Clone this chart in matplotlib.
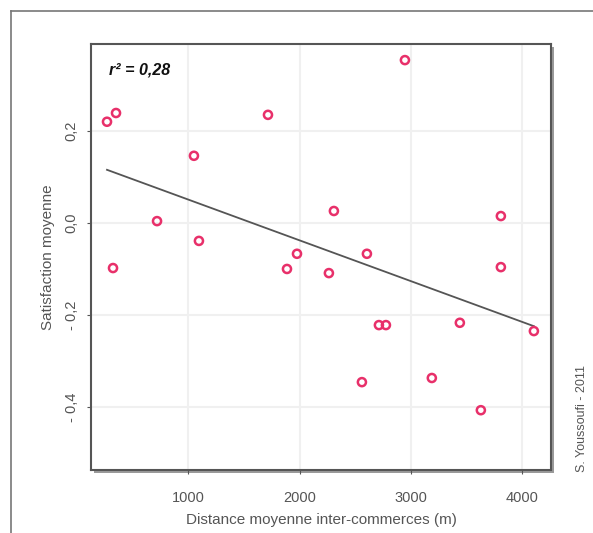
import numpy as np
import matplotlib
matplotlib.use("Agg")
import matplotlib.pyplot as plt
from matplotlib.patches import Rectangle
from matplotlib.lines import Line2D

# distance moyenne inter-commerces (m) / satisfaction moyenne
distance = [267, 348, 321, 717, 1049, 1094, 1715, 1886, 1976, 2263, 2308,
            2605, 2560, 2713, 2776, 2947, 3189, 3441, 3630, 3810, 3810, 4107]
satisfaction = [0.220, 0.239, -0.098, 0.004, 0.146, -0.039, 0.235, -0.100,
                -0.067, -0.109, 0.026, -0.067, -0.346, -0.222, -0.222, 0.354,
                -0.337, -0.217, -0.407, 0.015, -0.096, -0.235]
x_ticks = [1000, 2000, 3000, 4000]
y_ticks = [0.2, 0.0, -0.2, -0.4]
y_ticklabels = ["0,2", "0,0", "- 0,2", "- 0,4"]

plt.rcParams['font.family'] = ['Liberation Sans', 'DejaVu Sans']

fig = plt.figure(figsize=(5.93, 5.33), dpi=100)

# L-shaped outer frame
fig.add_artist(Line2D([11/593, 1], [1-11/533, 1-11/533], color="#777777", lw=1.2))
fig.add_artist(Line2D([11/593, 11/593], [0, 1-11/533], color="#777777", lw=1.2))

ax_pos = [91/593, 1-470/533, 460/593, 426/533]
# drop shadow behind the plot box
shadow = Rectangle((ax_pos[0] + 3/593, ax_pos[1] - 3/533), ax_pos[2], ax_pos[3],
                   transform=fig.transFigure, facecolor="#9a9a9a", edgecolor="none", zorder=0)
fig.add_artist(shadow)

ax = fig.add_axes(ax_pos)
ax.set_zorder(1)
ax.set_facecolor("white")
ax.set_xlim(123, 4261)
ax.set_ylim(-0.537, 0.389)

for xt in x_ticks:
    ax.axvline(xt, color="#f0f0f0", lw=1.5, zorder=0)
for yt in y_ticks:
    ax.axhline(yt, color="#f0f0f0", lw=1.5, zorder=0)

ax.scatter(distance, satisfaction, s=34, facecolors="none",
           edgecolors="#e8306a", linewidths=1.8, zorder=3)

coef = np.polyfit(distance, satisfaction, 1)
xs = np.array([min(distance), max(distance)])
ax.plot(xs, np.polyval(coef, xs), color="#555555", lw=1.3, zorder=2)

ax.text(0.04, 0.94, "r² = 0,28", transform=ax.transAxes, fontsize=11.5,
        fontweight="bold", style="italic", color="#111111", va="center")

ax.set_xticks(x_ticks)
ax.set_yticks(y_ticks)
ax.set_yticklabels(y_ticklabels, rotation=90, va="center")
ax.tick_params(colors="#555555", labelsize=10.5, length=3, width=0.8, direction="out")
ax.tick_params(axis="x", pad=12)
ax.tick_params(axis="y", pad=6)
for sp in ax.spines.values():
    sp.set_color("#555555")
    sp.set_linewidth(1.5)

ax.set_xlabel("Distance moyenne inter-commerces (m)", fontsize=11, color="#555555", labelpad=6)
ax.set_ylabel("Satisfaction moyenne", fontsize=11, color="#555555", labelpad=7)

fig.text(582/593, 1-418/533, "S. Youssoufi - 2011", rotation=90, fontsize=9,
         color="#555555", ha="center", va="center")

fig.savefig("out.png", dpi=100)
